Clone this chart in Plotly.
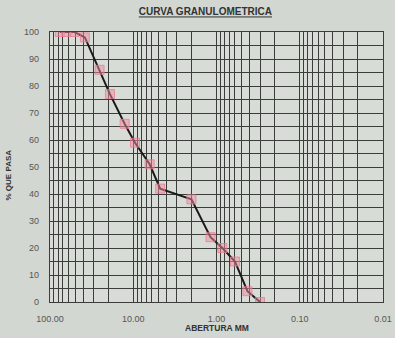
import plotly.graph_objects as go

# Sieve openings (mm) and cumulative percent passing
abertura_mm = [76.2, 63.5, 50.8, 38.1, 25.4, 19.05, 12.7, 9.525, 6.35, 4.75,
               2.0, 1.18, 0.85, 0.6, 0.425, 0.3]
pct_pasa = [100, 100, 100, 98, 86, 77, 66, 59, 51, 42,
            38, 24, 20, 15, 4, 0]

x_tick_vals = [100, 10, 1, 0.1, 0.01]
x_tick_text = ["100.00", "10.00", "1.00", "0.10", "0.01"]
y_tick_vals = [0, 10, 20, 30, 40, 50, 60, 70, 80, 90, 100]

decades = [0.01, 0.1, 1, 10]
x_minor = [d * m for d in decades for m in range(2, 10)]

grid = "#3a3d3a"
fig = go.Figure()
fig.add_trace(go.Scatter(
    x=abertura_mm, y=pct_pasa, mode="lines+markers",
    line=dict(color="#1a1a1a", width=2),
    marker=dict(symbol="square", size=9, color="rgba(240,140,160,0.5)",
                line=dict(color="rgba(235,120,145,0.75)", width=1)),
    showlegend=False,
))

fig.update_layout(
    width=395, height=338,
    margin=dict(l=50, r=12, t=32, b=36),
    paper_bgcolor="#d2d7d2",
    plot_bgcolor="#d8dcd7",
    font=dict(family="Liberation Sans, Arial", size=9, color="#555"),
    title=dict(text="<b><u>CURVA GRANULOMETRICA</u></b>", x=0.52, y=0.975,
               xanchor="center", yanchor="top",
               font=dict(size=10, color="#333")),
    annotations=[
        dict(text="<b>ABERTURA MM</b>", xref="paper", yref="paper",
             x=0.5, y=-0.098, xanchor="center", yanchor="middle", showarrow=False,
             borderpad=0, font=dict(size=8.5, color="#333")),
        dict(text="<b>% QUE PASA</b>", xref="paper", yref="paper",
             x=-0.125, y=0.47, xanchor="center", yanchor="middle", showarrow=False,
             textangle=-90, font=dict(size=8, color="#333")),
    ],
)
fig.update_xaxes(
    type="log", range=[2, -2], automargin=False,
    tickvals=x_tick_vals, ticktext=x_tick_text,
    showgrid=True, gridcolor=grid, gridwidth=1.3,
    minor=dict(tickvals=x_minor, showgrid=True, gridcolor=grid, gridwidth=1),
    showline=True, linecolor=grid, linewidth=1.3, mirror=True,
    ticks="", zeroline=False, ticklabelstandoff=8,
)
fig.update_yaxes(
    range=[0, 100], tickvals=y_tick_vals, automargin=False,
    showgrid=True, gridcolor=grid, gridwidth=1.3,
    minor=dict(dtick=5, showgrid=True, gridcolor=grid, gridwidth=1),
    showline=True, linecolor=grid, linewidth=1.3, mirror=True,
    ticks="", zeroline=False, ticklabelstandoff=8,
)

fig.write_html("out.html")
